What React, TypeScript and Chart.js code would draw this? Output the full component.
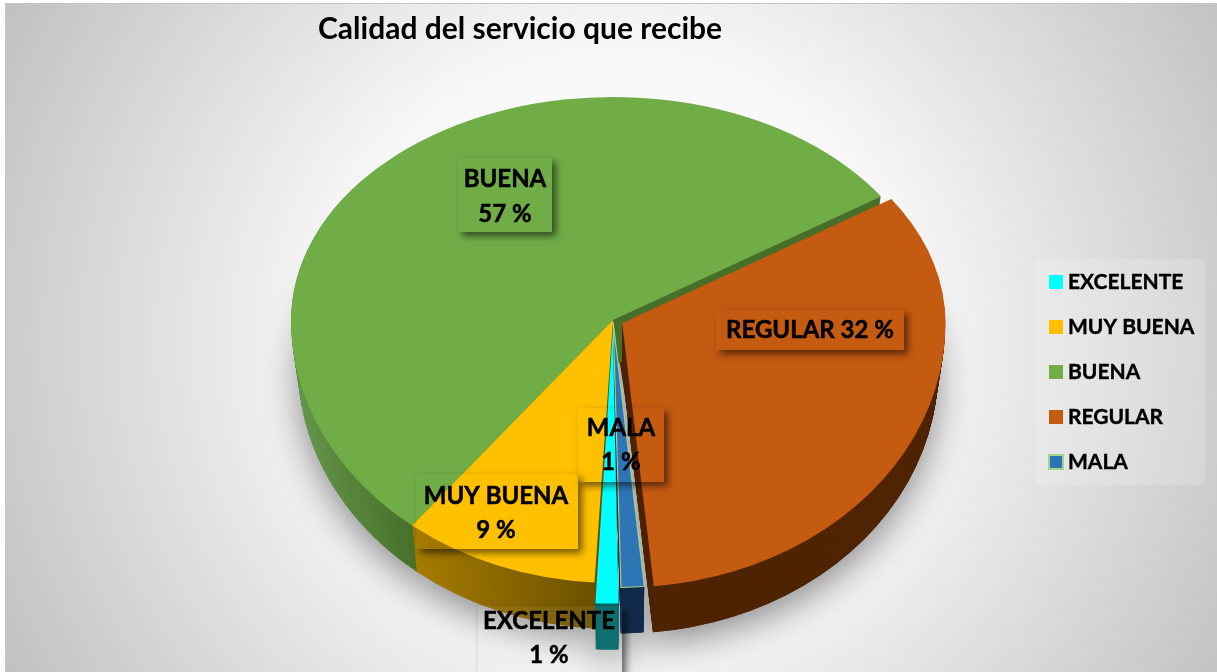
import React, { useEffect, useRef } from "react";
import { Chart, registerables } from "chart.js";

Chart.register(...registerables);

const TITLE = "Calidad del servicio que recibe";
const categories = ["EXCELENTE", "MUY BUENA", "BUENA", "REGULAR", "MALA"];
const percentages = [1, 9, 57, 32, 1];
const sliceColors = ["#00FFFF", "#FFC000", "#70AD47", "#C55A11", "#2E75B6"];
const sliceBorderColors = ["#00FFFF", "#FFC000", "#70AD47", "#C55A11", "#A9D18E"];
const sliceBorderWidths = [0, 0, 0, 0, 1];
const explode = [45, 0, 0, 35, 10];
const sideColors = ["#006666", "#C55A11", "#70AD47", "#4F2405", "#122B4A"];
const sideGradients: (null | [number, number, string, string])[] = [
  null,
  [410, 600, "#A67C00", "#6B5000"],
  [300, 415, "#649449", "#466F2A"],
  null,
  null,
];
const labelTexts = [
  ["EXCELENTE", "1 %"],
  ["MUY BUENA", "9 %"],
  ["BUENA", "57 %"],
  ["REGULAR 32 %"],
  ["MALA", "1 %"],
];

// Layout only
const W = 1217;
const H = 672;
const APEX_X = 613;
const APEX_Y = 320;
const RX = 322;
const SCALE_UP = 223 / 322;
const SCALE_DOWN = 263 / 322;
const DEPTH = 46;
const BOTTOM_SHRINK = 0.022;
const LABEL_BOXES = [
  { x: 478, y: 606, w: 144, h: 72, cx: 549, ys: [621, 655], tint: "rgba(255,255,255,0.06)" },
  { x: 416, y: 474, w: 162, h: 75, cx: 496, ys: [496, 530], tint: "" },
  { x: 458, y: 158, w: 94, h: 74, cx: 505, ys: [179, 214], tint: "" },
  { x: 716, y: 310, w: 188, h: 40, cx: 810, ys: [330], tint: "" },
  { x: 578, y: 408, w: 86, h: 74, cx: 621, ys: [428, 462], tint: "" },
];
const LEGEND_PANEL = { x: 1036, y: 259, w: 169, h: 226 };
const LEGEND_ROWS = [282, 327, 372, 417, 462];
const FONT = "Lato, Carlito, 'Open Sans', sans-serif";

// Viewing-angle correction of the pie plane (degrees, measured clockwise from straight down).
function perspectiveAngle(rad: number) {
  const deg = (rad * 180) / Math.PI - 90;
  const t = (deg * Math.PI) / 180;
  let near = ((deg + 180) % 360 + 360) % 360 - 180;
  const shift =
    6.0 * Math.sin(t) + 0.9 * (1 - Math.cos(t)) + 0.2 * near * Math.exp(-((near / 6) ** 2));
  return rad + (shift * Math.PI) / 180;
}

function drawSlice(
  ctx: CanvasRenderingContext2D,
  arc: any,
  dy: number,
  fill: any,
  keepBorder: boolean,
  xScale = 1,
) {
  const savedOptions = arc.options;
  const { startAngle, endAngle, circumference } = arc;
  const s0 = perspectiveAngle(startAngle);
  const s1 = perspectiveAngle(endAngle);
  arc.startAngle = s0;
  arc.endAngle = s1;
  arc.circumference = s1 - s0;
  const sx = RX / arc.outerRadius;
  arc.options = keepBorder
    ? savedOptions
    : { ...savedOptions, backgroundColor: fill, borderWidth: 0 };
  const halves = [
    { top: 0, bottom: APEX_Y + dy, s: SCALE_UP },
    { top: APEX_Y + dy, bottom: H, s: SCALE_DOWN },
  ];
  for (const half of halves) {
    ctx.save();
    ctx.beginPath();
    ctx.rect(-50, half.top, W + 100, half.bottom - half.top);
    ctx.clip();
    ctx.translate(APEX_X, APEX_Y + dy);
    ctx.scale(sx * xScale, sx * half.s);
    ctx.translate(-arc.x, -arc.y);
    arc.draw(ctx);
    ctx.restore();
  }
  arc.options = savedOptions;
  arc.startAngle = startAngle;
  arc.endAngle = endAngle;
  arc.circumference = circumference;
}

const piePlugin = {
  id: "pie3d",
  beforeDraw(chart: any) {
    const ctx: CanvasRenderingContext2D = chart.ctx;
    ctx.save();
    ctx.fillStyle = "#ffffff";
    ctx.fillRect(0, 0, W, H);
    const g = ctx.createRadialGradient(620, 340, 0, 620, 340, 720);
    g.addColorStop(0, "#ffffff");
    g.addColorStop(0.4, "#f8f8f8");
    g.addColorStop(0.5, "#eeeeee");
    g.addColorStop(1, "#bebebe");
    ctx.fillStyle = g;
    ctx.fillRect(5, 4, W - 5, H - 4);
    ctx.fillStyle = "#c6c6c6";
    ctx.fillRect(5, 3, W - 5, 1);
    ctx.fillRect(5, 3, 1, H - 3);
    ctx.fillStyle = "rgba(255,255,255,0.18)";
    ctx.fillRect(LEGEND_PANEL.x, LEGEND_PANEL.y, LEGEND_PANEL.w, LEGEND_PANEL.h);
    ctx.restore();
  },
  beforeDatasetsDraw(chart: any) {
    const ctx: CanvasRenderingContext2D = chart.ctx;
    const arcs = chart.getDatasetMeta(0).data;
    const sx = RX / arcs[0].outerRadius;
    const userX = (X: number) => arcs[0].x + (X - APEX_X) / sx;
    const side = (i: number) => {
      const spec = sideGradients[i];
      if (!spec) return sideColors[i];
      const g = ctx.createLinearGradient(userX(spec[0]), 0, userX(spec[1]), 0);
      g.addColorStop(0, spec[2]);
      g.addColorStop(1, spec[3]);
      return g;
    };
    const order = [2, 1, 3, 4, 0];
    // soft cast shadow
    ctx.save();
    ctx.shadowColor = "rgba(0,0,0,0.42)";
    ctx.shadowBlur = 34;
    ctx.shadowOffsetY = 12;
    for (const i of order) drawSlice(ctx, arcs[i], DEPTH, sideColors[i], false, 1 - BOTTOM_SHRINK);
    ctx.restore();
    // cut face of the exploded REGULAR slice, narrowing towards the rim
    ctx.save();
    ctx.beginPath();
    ctx.rect(600, 326, 70, 270);
    ctx.clip();
    ctx.translate(652, 586);
    ctx.rotate((-1.8 * Math.PI) / 180);
    ctx.translate(-652, -586);
    drawSlice(ctx, arcs[3], 0, sideColors[3], false);
    ctx.restore();
    // side walls, back to front
    for (const i of order) {
      const fill = side(i);
      for (let d = DEPTH; d >= 1; d--) {
        drawSlice(ctx, arcs[i], d, fill, false, 1 - (BOTTOM_SHRINK * d) / DEPTH);
      }
    }
    // top faces
    for (const i of order) drawSlice(ctx, arcs[i], 0, null, true);
    return false;
  },
  afterDraw(chart: any) {
    const ctx: CanvasRenderingContext2D = chart.ctx;
    LABEL_BOXES.forEach((b, i) => {
      ctx.save();
      ctx.beginPath();
      ctx.rect(0, 0, W, H);
      ctx.rect(b.x, b.y, b.w, b.h);
      ctx.clip("evenodd");
      ctx.shadowColor = "rgba(0,0,0,0.55)";
      ctx.shadowBlur = 7;
      ctx.shadowOffsetX = 4;
      ctx.shadowOffsetY = 4;
      ctx.fillStyle = "#000";
      ctx.fillRect(b.x, b.y, b.w, b.h);
      ctx.restore();
      if (b.tint) {
        ctx.fillStyle = b.tint;
        ctx.fillRect(b.x, b.y, b.w, b.h);
      }
      ctx.save();
      ctx.fillStyle = "#000";
      ctx.strokeStyle = "#000";
      ctx.lineWidth = 0.5;
      ctx.font = `bold 24px ${FONT}`;
      ctx.textAlign = "center";
      ctx.textBaseline = "middle";
      labelTexts[i].forEach((t, k) => {
        ctx.fillText(t, b.cx, b.ys[k]);
        ctx.strokeText(t, b.cx, b.ys[k]);
      });
      ctx.restore();
    });
    // legend
    ctx.save();
    ctx.font = `bold 21px ${FONT}`;
    ctx.textBaseline = "middle";
    categories.forEach((name, i) => {
      const y = LEGEND_ROWS[i];
      if (sliceBorderWidths[i]) {
        ctx.fillStyle = sliceBorderColors[i];
        ctx.fillRect(1048, y - 8, 16, 16);
        ctx.fillStyle = sliceColors[i];
        ctx.fillRect(1050, y - 6, 12, 12);
      } else {
        ctx.fillStyle = sliceColors[i];
        ctx.fillRect(1049, y - 7, 14, 14);
      }
      ctx.fillStyle = "#000";
      ctx.strokeStyle = "#000";
      ctx.lineWidth = 0.4;
      ctx.fillText(name, 1068, y);
      ctx.strokeText(name, 1068, y);
    });
    ctx.restore();
  },
};

export default function App() {
  const ref = useRef<HTMLCanvasElement | null>(null);
  useEffect(() => {
    document.body.style.margin = "0";
    const chart = new Chart(ref.current as HTMLCanvasElement, {
      type: "pie",
      data: {
        labels: categories,
        datasets: [
          {
            data: percentages,
            backgroundColor: sliceColors,
            borderColor: sliceBorderColors,
            borderWidth: sliceBorderWidths,
            offset: explode,
          },
        ],
      },
      options: {
        animation: false,
        responsive: false,
        rotation: 179,
        layout: { padding: { left: 318, right: 12 } },
        plugins: {
          tooltip: { enabled: false },
          legend: { display: false },
          title: {
            display: true,
            text: TITLE,
            align: "start",
            fullSize: false,
            color: "#000",
            font: { family: FONT, size: 30, weight: "bold" },
            padding: { top: 11, bottom: 25 },
          },
        },
      },
      plugins: [piePlugin],
    } as any);
    return () => chart.destroy();
  }, []);
  return <canvas ref={ref} width={W} height={H} style={{ display: "block" }} />;
}
